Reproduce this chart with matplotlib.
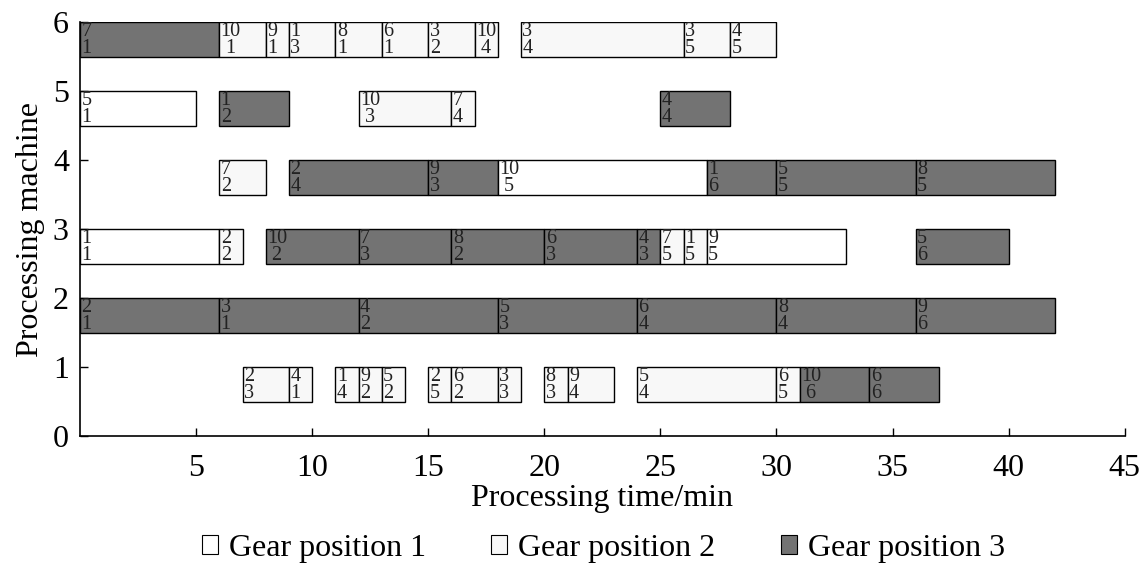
import matplotlib.pyplot as plt
from matplotlib.patches import Patch

plt.rcParams['font.family'] = ['Liberation Serif', 'DejaVu Serif']

# one entry per operation: machine, start, end, job, operation, gear position
machine = [6, 6, 6, 6, 6, 6, 6, 6, 6, 6, 6,
           5, 5, 5, 5, 5,
           4, 4, 4, 4, 4, 4, 4,
           3, 3, 3, 3, 3, 3, 3, 3, 3, 3, 3,
           2, 2, 2, 2, 2, 2, 2,
           1, 1, 1, 1, 1, 1, 1, 1, 1, 1, 1, 1, 1, 1]
start = [0, 6, 8, 9, 11, 13, 15, 17, 19, 26, 28,
         0, 6, 12, 16, 25,
         6, 9, 15, 18, 27, 30, 36,
         0, 6, 8, 12, 16, 20, 24, 25, 26, 27, 36,
         0, 6, 12, 18, 24, 30, 36,
         7, 9, 11, 12, 13, 15, 16, 18, 20, 21, 24, 30, 31, 34]
end = [6, 8, 9, 11, 13, 15, 17, 18, 26, 28, 30,
       5, 9, 16, 17, 28,
       8, 15, 18, 27, 30, 36, 42,
       6, 7, 12, 16, 20, 24, 25, 26, 27, 33, 40,
       6, 12, 18, 24, 30, 36, 42,
       9, 10, 12, 13, 14, 16, 18, 19, 21, 23, 30, 31, 34, 37]
job = [7, 10, 9, 1, 8, 6, 3, 10, 3, 3, 4,
       5, 1, 10, 7, 4,
       7, 2, 9, 10, 1, 5, 8,
       1, 2, 10, 7, 8, 6, 4, 7, 1, 9, 5,
       2, 3, 4, 5, 6, 8, 9,
       2, 4, 1, 9, 5, 2, 6, 3, 8, 9, 5, 6, 10, 6]
op = [1, 1, 1, 3, 1, 1, 2, 4, 4, 5, 5,
      1, 2, 3, 4, 4,
      2, 4, 3, 5, 6, 5, 5,
      1, 2, 2, 3, 2, 3, 3, 5, 5, 5, 6,
      1, 1, 2, 3, 4, 4, 6,
      3, 1, 4, 2, 2, 5, 2, 3, 3, 4, 4, 5, 6, 6]
gear = [3, 2, 2, 2, 2, 2, 2, 2, 2, 2, 2,
        1, 3, 2, 2, 3,
        2, 3, 3, 1, 3, 3, 3,
        1, 2, 3, 3, 3, 3, 3, 2, 2, 1, 3,
        3, 3, 3, 3, 3, 3, 3,
        2, 2, 2, 2, 2, 2, 2, 2, 2, 2, 2, 2, 3, 3]

gear_names = ['Gear position 1', 'Gear position 2', 'Gear position 3']
gear_colors = {1: '#ffffff', 2: '#f8f8f8', 3: '#737373'}

fig = plt.figure(figsize=(11.43, 5.67), dpi=100)
ax = fig.add_axes([0.070, 0.231, 0.914, 0.730])

for m, s, e, j, o, g in zip(machine, start, end, job, op, gear):
    ax.barh(m - 0.25, e - s, left=s, height=0.5, color=gear_colors[g],
            edgecolor='black', linewidth=1)
    label = f'{j}\n{o}' if j < 10 else f'{j}\n {o}'
    ax.text(s + 0.06, m - 0.26, label, ha='left', va='center',
            fontsize=14.5, linespacing=0.92, color='#222222')

ax.set_xlim(0, 45)
ax.set_ylim(0, 6)
ax.set_xticks(range(5, 46, 5))
ax.set_yticks(range(0, 7))
ax.tick_params(direction='in', labelsize=23, length=6, width=1)
ax.tick_params(axis='x', pad=13)
ax.tick_params(axis='y', pad=8)
ax.spines['top'].set_visible(False)
ax.spines['right'].set_visible(False)
ax.spines['left'].set_linewidth(1.2)
ax.spines['bottom'].set_linewidth(1.2)
ax.set_xlabel('Processing time/min', fontsize=23, labelpad=1)
ax.set_ylabel('Processing machine', fontsize=23, labelpad=6)

handles = [Patch(facecolor=gear_colors[k], edgecolor='black', linewidth=0.8)
           for k in (1, 2, 3)]
fig.legend(handles, gear_names, loc='center', bbox_to_anchor=(0.528, 0.033),
           ncol=3, frameon=False, fontsize=23, handlelength=0.5,
           handleheight=0.5, handletextpad=0.35, columnspacing=2.05)

fig.savefig('out.png', dpi=100)
